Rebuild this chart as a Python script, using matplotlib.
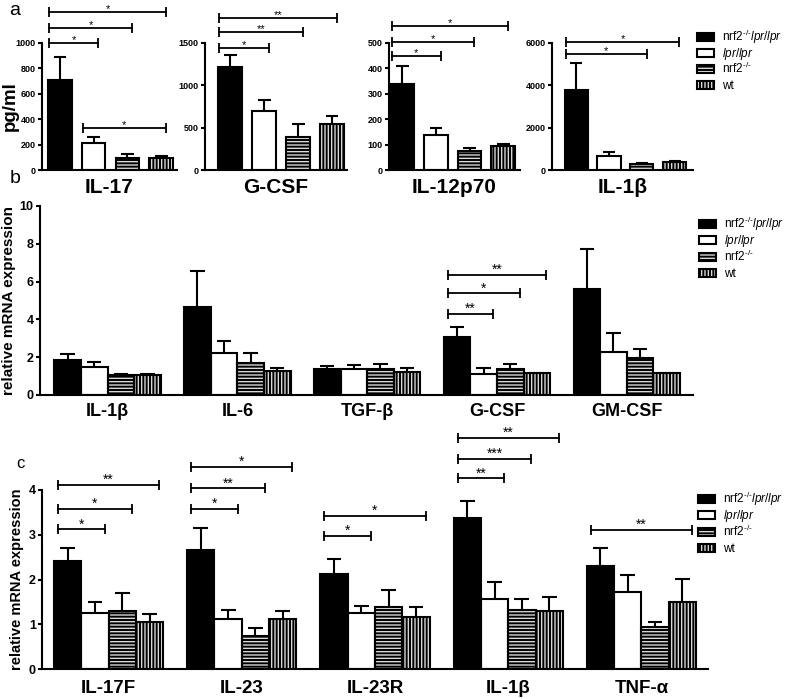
import numpy as np
import matplotlib
matplotlib.use("Agg")
import matplotlib.pyplot as plt
from matplotlib.patches import Rectangle

plt.rcParams["font.family"] = ["Liberation Sans", "DejaVu Sans"]
plt.rcParams["mathtext.fontset"] = "custom"
plt.rcParams["mathtext.rm"] = "Liberation Sans"
plt.rcParams["mathtext.it"] = "Liberation Sans:italic"
plt.rcParams["hatch.linewidth"] = 1.0

# Genotypes (legend order).
genotypes = [r"nrf2$^{\text{-/-}}\mathit{lpr/lpr}$", r"$\mathit{lpr/lpr}$", r"nrf2$^{\text{-/-}}$", "wt"]

# Panel a: serum cytokines (pg/ml).
a_names = ["IL-17", "G-CSF", "IL-12p70", "IL-1\u03b2"]
a_means = [[710, 216, 97, 95],
           [1212, 699, 395, 545],
           [338, 138, 75, 95],
           [3780, 661, 283, 362]]
a_errs = [[179, 42, 29, 15],
          [150, 130, 146, 94],
          [70, 29, 13, 8],
          [1290, 205, 32, 63]]
a_yticks = [[0, 200, 400, 600, 800, 1000],
            [0, 500, 1000, 1500],
            [0, 100, 200, 300, 400, 500],
            [0, 2000, 4000, 6000]]
# (panel, from bar, to bar, height, label)
a_sig = [(0, 0, 1, 1000, "*"), (0, 0, 2, 1118, "*"), (0, 0, 3, 1242, "*"), (0, 1, 3, 334, "*"),
         (1, 0, 1, 1441, "*"), (1, 0, 2, 1630, "**"), (1, 0, 3, 1796, "**"),
         (2, 0, 1, 450, "*"), (2, 0, 2, 504, "*"), (2, 0, 3, 566, "*"),
         (3, 0, 2, 5465, "*"), (3, 0, 3, 6063, "*")]

# Panel b: relative mRNA expression.
b_names = ["IL-1\u03b2", "IL-6", "TGF-\u03b2", "G-CSF", "GM-CSF"]
b_means = [[1.85, 1.46, 1.06, 1.04],
           [4.67, 2.20, 1.71, 1.27],
           [1.39, 1.38, 1.39, 1.23],
           [3.09, 1.11, 1.38, 1.15],
           [5.61, 2.28, 1.94, 1.15]]
b_errs = [[0.32, 0.29, 0.05, 0.07],
          [1.91, 0.67, 0.49, 0.14],
          [0.14, 0.21, 0.23, 0.22],
          [0.49, 0.34, 0.24, 0.03],
          [2.10, 0.98, 0.48, 0.03]]
b_sig = [(3, 0, 1, 4.29, "**"), (3, 0, 2, 5.38, "*"), (3, 0, 3, 6.35, "**")]

# Panel c: relative mRNA expression.
c_names = ["IL-17F", "IL-23", "IL-23R", "IL-1\u03b2", "TNF-\u03b1"]
c_means = [[2.42, 1.25, 1.30, 1.04],
           [2.65, 1.12, 0.73, 1.12],
           [2.13, 1.25, 1.38, 1.17],
           [3.38, 1.57, 1.32, 1.30],
           [2.30, 1.73, 0.93, 1.49]]
c_errs = [[0.29, 0.24, 0.40, 0.19],
          [0.49, 0.20, 0.18, 0.17],
          [0.33, 0.16, 0.39, 0.21],
          [0.38, 0.37, 0.25, 0.32],
          [0.41, 0.37, 0.12, 0.52]]
c_sig = [(0, 0, 1, 3.12, "*"), (0, 0, 2, 3.58, "*"), (0, 0, 3, 4.11, "**"),
         (1, 0, 1, 3.58, "*"), (1, 0, 2, 4.04, "**"), (1, 0, 3, 4.51, "*"),
         (2, 0, 1, 2.97, "*"), (2, 0, 3, 3.42, "*"),
         (3, 0, 1, 4.26, "**"), (3, 0, 2, 4.69, "***"), (3, 0, 3, 5.17, "**"),
         (4, 0, 3, 3.11, "**")]

# Bar styles: (face, hatch colour, hatch).
styles = [("black", "black", None),
          ("white", "white", None),
          ("black", "#d8d8d8", "-----"),
          ("black", "#d8d8d8", "|||||")]

W, H = 787, 699
fig = plt.figure(figsize=(W / 100, H / 100), dpi=100)


def px_axes(left, right, top, bottom):
    return fig.add_axes([left / W, 1 - bottom / H, (right - left) / W, (bottom - top) / H])


def style_axes(ax, fs):
    ax.spines["right"].set_visible(False)
    ax.spines["top"].set_visible(False)
    ax.spines["left"].set_linewidth(1.5)
    ax.spines["bottom"].set_linewidth(1.5)
    ax.tick_params(axis="y", direction="out", length=3, width=1.5, labelsize=fs, pad=1.5)
    for t in ax.get_yticklabels():
        t.set_fontweight("bold")


def draw_bars(ax, xs, h, e, w):
    xs = np.asarray(xs, dtype=float)
    h = np.asarray(h, dtype=float)
    e = np.asarray(e, dtype=float)
    for k in range(4):
        face, hc, hatch = styles[k]
        ax.bar(xs[k], h[k], w, color=face, edgecolor=hc, hatch=hatch, linewidth=0, zorder=2)
        ax.bar(xs[k], h[k], w, fill=False, edgecolor="black", linewidth=1.5, zorder=3)
    ax.vlines(xs, h, h + e, color="black", lw=1.5, zorder=4, clip_on=False)
    ax.hlines(h + e, xs - 0.27 * w, xs + 0.27 * w, color="black", lw=1.5, zorder=4, clip_on=False)


def sig(ax, x1, x2, y, txt, fs):
    ax.plot([x1, x2], [y, y], color="black", lw=1.3, marker="|", ms=7, mew=1.3,
            clip_on=False, zorder=5)
    ax.annotate(txt, ((x1 + x2) / 2, y), xytext=(0, -1.5), textcoords="offset points",
                ha="center", va="bottom", fontsize=fs, annotation_clip=False)


def legend(left, first, step):
    # hand-placed legend so rows keep an even pitch
    for k, (face, hc, hatch) in enumerate(styles):
        yc = first + k * step
        box = [left / W, 1 - (yc + 4) / H, 17 / W, 8 / H]
        fig.add_artist(Rectangle(box[:2], box[2], box[3], transform=fig.transFigure,
                                 facecolor=face, edgecolor=hc, hatch=hatch, linewidth=0))
        fig.add_artist(Rectangle(box[:2], box[2], box[3], transform=fig.transFigure,
                                 fill=False, edgecolor="black", linewidth=1.5))
        fig.text((left + 25) / W, 1 - (yc + 4) / H, genotypes[k], fontsize=8.5,
                 ha="left", va="baseline")


# ---- Panel a ----
a_layout = [(42, 177, -0.53, 3.47), (205, 347, -0.74, 3.44),
            (389, 520, -0.40, 3.50), (552, 693, -0.73, 3.55)]
a_axes = []
bw = 0.7
for i, name in enumerate(a_names):
    l, r, x0, x1 = a_layout[i]
    ax = px_axes(l, r, 43, 170)
    draw_bars(ax, np.arange(4), a_means[i], a_errs[i], bw)
    ax.set_xlim(x0, x1)
    ax.set_ylim(0, a_yticks[i][-1])
    ax.set_yticks(a_yticks[i])
    ax.set_xticks([])
    ax.set_xlabel(name, fontsize=15, fontweight="bold", labelpad=6)
    style_axes(ax, 6.5)
    a_axes.append(ax)
for p, i, j, y, txt in a_sig:
    sig(a_axes[p], i - 0.45 * bw, j + 0.2 * bw, y, txt, 8)
a_axes[0].set_ylabel("pg/ml", fontsize=13.5, fontweight="bold")
a_axes[0].yaxis.set_label_coords(-23 / 135, 0.5)
legend(697, 37, 16.0)

# ---- Panel b ----
w = 0.205
ax = px_axes(40, 693, 206, 395)
for g in range(len(b_names)):
    draw_bars(ax, g + (np.arange(4) - 1.5) * w, b_means[g], b_errs[g], w)
for g, i, j, y, txt in b_sig:
    sig(ax, g + (i - 1.5) * w - 0.35 * w, g + (j - 1.5) * w + 0.35 * w, y, txt, 10)
ax.set_xlim(-0.52, 4.51)
ax.set_ylim(0, 10)
ax.set_yticks([0, 2, 4, 6, 8, 10])
ax.set_xticks(range(len(b_names)))
ax.set_xticklabels(b_names, fontsize=13, fontweight="bold")
ax.tick_params(axis="x", length=0, pad=6)
ax.set_ylabel("relative mRNA expression", fontsize=11, fontweight="bold", labelpad=3)
style_axes(ax, 9)
legend(699, 224, 16.3)

# ---- Panel c ----
ax = px_axes(42, 708, 490, 669)
for g in range(len(c_names)):
    draw_bars(ax, g + (np.arange(4) - 1.5) * w, c_means[g], c_errs[g], w)
for g, i, j, y, txt in c_sig:
    sig(ax, g + (i - 1.5) * w - 0.35 * w, g + (j - 1.5) * w + 0.35 * w, y, txt, 10)
ax.set_xlim(-0.50, 4.50)
ax.set_ylim(0, 4)
ax.set_yticks([0, 1, 2, 3, 4])
ax.set_xticks(range(len(c_names)))
ax.set_xticklabels(c_names, fontsize=13.5, fontweight="bold")
ax.tick_params(axis="x", length=0, pad=8)
ax.set_ylabel("relative mRNA expression", fontsize=10.5, fontweight="bold", labelpad=3)
style_axes(ax, 9)
legend(698, 499, 16.3)

# Panel letters.
fig.text(9 / W, 1 - 2 / H, "a", fontsize=14, va="top")
fig.text(10 / W, 1 - 170 / H, "b", fontsize=14, va="top")
fig.text(16 / W, 1 - 456 / H, "c", fontsize=12, va="top")

fig.savefig("out.png", dpi=100)
